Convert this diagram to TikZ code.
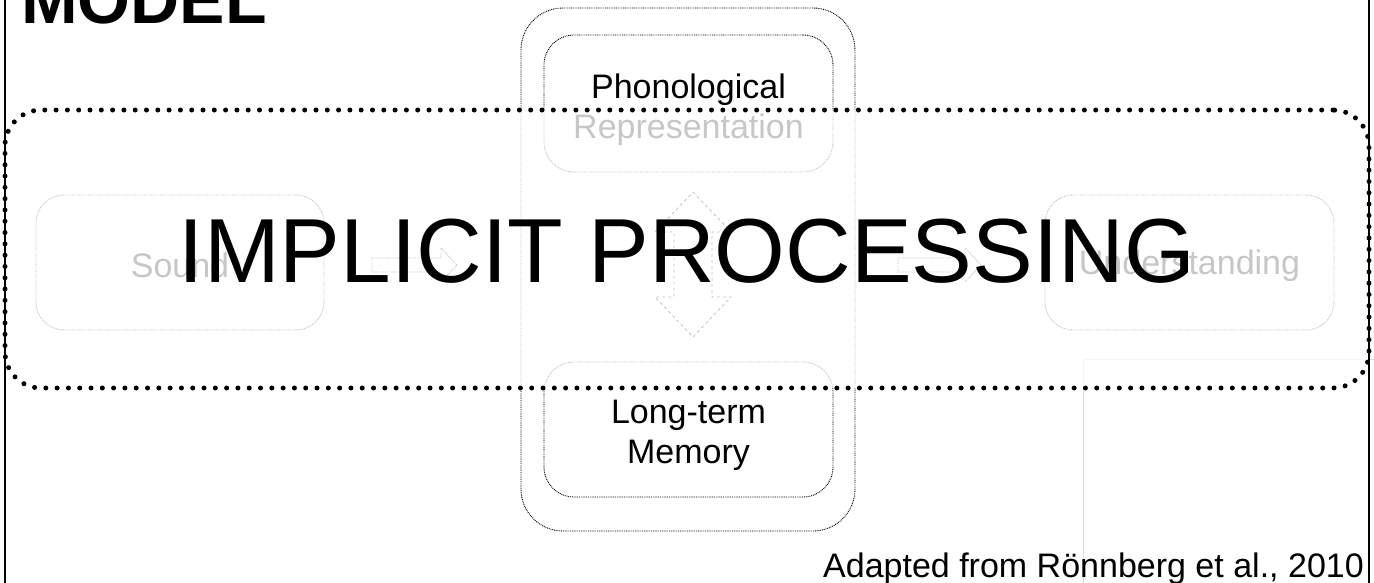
\documentclass[tikz,border=0pt]{standalone}
\usepackage{fontspec}
\setmainfont{Liberation Sans}
\begin{document}
\begin{tikzpicture}[x=1pt,y=-1pt,
  lbl/.style={font=\fontsize{34}{40}\selectfont, align=center, inner sep=0pt},
  box/.style={draw=black, line width=0.9pt, dash pattern=on 0.9pt off 0.9pt,
    rounded corners=#1, inner sep=0pt},
  box/.default=30pt,
  blockarrow/.style={draw=black, line width=0.9pt, dash pattern=on 0.9pt off 0.9pt, line join=miter},
  dblarrow/.style={draw=black, line width=0.9pt, dash pattern=on 3pt off 3pt, line join=miter},
  overlay box/.style={draw=black, line width=5pt, dash pattern=on 0pt off 11.3pt,
    line cap=round, rounded corners=36pt, fill=white, fill opacity=0.78,
    draw opacity=1, inner sep=0pt},
  frame line/.style={draw=black, line width=2.2pt}
]
\useasboundingbox (0,0) rectangle (1374,582);
\clip (0,0) rectangle (1374,582);

% light grey frame at lower right
\coordinate (g1) at (1083,600);
\coordinate (g2) at (1083,359);
\coordinate (g3) at (1380,359);
\draw[gray!30, line width=0.8pt] (g1) -- (g2) -- (g3);

% central working-memory column
\node[box=42pt, minimum width=334pt, minimum height=523pt] (wm) at (688,269.5) {};
\node[box, minimum width=289pt, minimum height=137pt] (phon) at (688.5,103.5) {};
\node[lbl] (phonlbl) at ([yshift=-6pt]phon.center) {Phonological\\Representation};
\node[box, minimum width=289pt, minimum height=135pt] (ltm) at (688.5,429.5) {};
\node[lbl] (ltmlbl) at ([yshift=-6pt]ltm.center) {Long-term\\Memory};

% side boxes
\node[box=28pt, minimum width=288pt, minimum height=135pt] (sound) at (180,262.5) {};
\node[lbl] (soundlbl) at ([yshift=-3pt]sound.center) {Sound};
\node[box=28pt, minimum width=289pt, minimum height=135pt] (und) at (1189.5,262.5) {};
\node[lbl] (undlbl) at ([yshift=-3pt]und.center) {Understanding};

% block arrows
\draw[blockarrow] (372,258) -- (441,258) -- (441,248) -- (457,265) -- (441,282) -- (441,272) -- (372,272) -- cycle;
\draw[blockarrow] (898,258) -- (965,258) -- (965,248) -- (981,265) -- (965,282) -- (965,272) -- (898,272) -- cycle;

% vertical double arrow
\draw[dblarrow] (693,192) -- (731,232) -- (712,232) -- (712,297) -- (731,297) -- (693,337)
  -- (655,297) -- (674,297) -- (674,232) -- (655,232) -- cycle;

% implicit processing overlay
\node[overlay box, minimum width=1364pt, minimum height=278pt] (impl) at (687,249) {};
\node[anchor=base, font=\fontsize{91}{91}\selectfont] (impltext) at (687,282) {IMPLICIT PROCESSING};

% title and credit
\node[anchor=base west, inner sep=0pt, font=\bfseries\fontsize{68}{68}\selectfont] (title) at (21,23) {MODEL};
\node[anchor=base east, lbl] (credit) at (1364,577) {Adapted from Rönnberg et al., 2010};

% slide frame edges
\coordinate (l1) at (5,-5);
\coordinate (l2) at (5,590);
\coordinate (r1) at (1369,-5);
\coordinate (r2) at (1369,590);
\draw[frame line] (l1) -- (l2);
\draw[frame line] (r1) -- (r2);
\end{tikzpicture}
\end{document}
